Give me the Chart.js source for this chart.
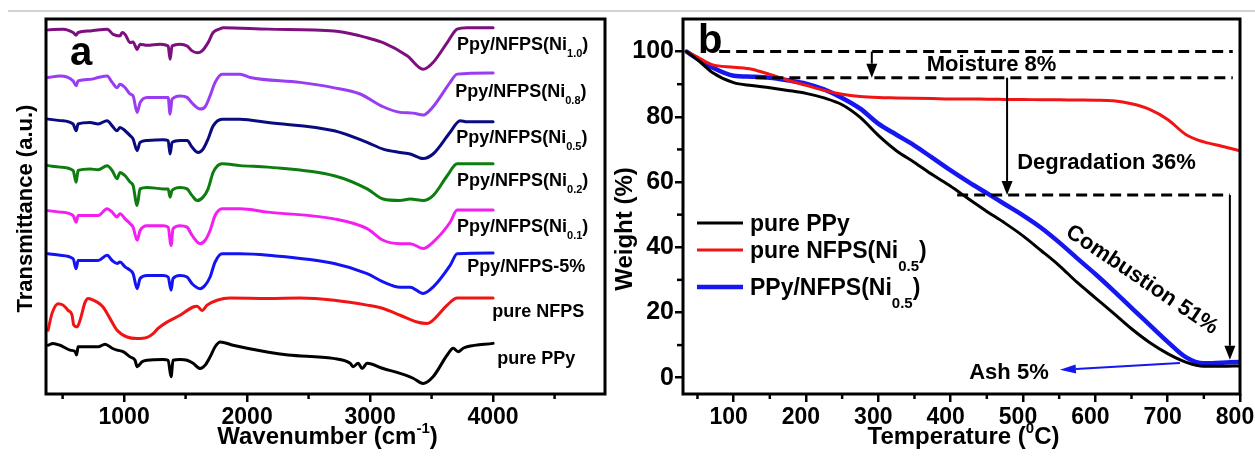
<!DOCTYPE html>
<html>
<head>
<meta charset="utf-8">
<script src="https://cdn.jsdelivr.net/npm/chart.js@4.4.1/dist/chart.umd.min.js"></script>
<style>
  html, body { margin: 0; padding: 0; background: #fff; }
  body { width: 1255px; height: 456px; position: relative; overflow: hidden; }
  #rule { position: absolute; left: 8px; top: 10px; width: 1247px; height: 2px; background: #d2d2d2; }
  #wrapA { position: absolute; left: 0; top: 0; width: 615px; height: 456px; }
  #wrapB { position: absolute; left: 600px; top: 0; width: 655px; height: 456px; }
  canvas { display: block; }
</style>
</head>
<body>
<div id="rule"></div>
<div id="wrapA"><canvas id="ftir" width="615" height="456"></canvas></div>
<div id="wrapB"><canvas id="tga" width="655" height="456"></canvas></div>
<script>
// ---------- (a) FTIR spectra: [wavenumber cm-1, offset transmittance a.u.] ----------
const ftirNi10 = [[382,97.1],[504,97.3],[585,96.4],[610,95.7],[626,96.4],[724,96.8],[862,97.3],[911,95.9],[967,95.5],[984,96.4],[1008,95.9],[1049,93.7],[1073,93.9],[1106,91.9],[1130,93.3],[1187,93.0],[1293,93.3],[1358,92.8],[1374,89.3],[1390,92.8],[1455,93.3],[1512,92.8],[1553,91.5],[1594,91.0],[1634,91.5],[1683,93.7],[1724,96.4],[1781,97.4],[1805,97.7],[2171,97.3],[2708,96.8],[2919,95.5],[2976,95.0],[3106,93.7],[3301,90.2],[3431,86.6],[3512,88.4],[3627,93.7],[3708,97.3],[3789,97.7],[4000,97.7]];
const ftirNi08 = [[382,84.4],[480,84.8],[585,83.5],[610,82.2],[626,83.5],[724,83.9],[789,84.4],[862,84.8],[903,83.1],[943,81.7],[967,82.6],[1008,81.7],[1049,80.0],[1073,79.5],[1106,75.1],[1130,77.7],[1187,79.1],[1317,79.1],[1358,79.1],[1374,74.6],[1390,78.6],[1455,79.5],[1512,79.1],[1561,77.3],[1618,76.0],[1659,76.6],[1699,79.5],[1740,83.1],[1797,85.3],[1943,85.3],[2025,84.4],[2431,83.1],[2700,81.7],[2919,80.0],[3106,76.6],[3244,75.1],[3350,74.9],[3431,74.4],[3512,76.6],[3651,83.1],[3708,85.3],[4000,85.6]];
const ftirNi05 = [[382,73.3],[480,72.9],[585,72.0],[610,70.2],[626,72.0],[724,72.4],[789,72.0],[862,72.9],[903,71.5],[943,70.2],[967,71.1],[1008,70.2],[1049,68.9],[1073,68.0],[1106,64.9],[1130,67.1],[1187,67.6],[1317,67.8],[1358,67.6],[1374,64.0],[1390,67.1],[1455,67.6],[1512,67.6],[1553,65.8],[1602,64.4],[1642,65.3],[1683,68.0],[1724,71.5],[1797,73.3],[1943,73.3],[2171,72.4],[2708,70.2],[2976,67.1],[3106,65.3],[3244,64.4],[3326,64.0],[3431,62.8],[3512,64.0],[3651,69.8],[3732,72.9],[3789,72.6],[4000,72.6]];
const ftirNi02 = [[382,60.9],[480,60.5],[585,59.6],[610,56.5],[626,59.6],[724,60.0],[789,59.8],[862,60.9],[903,59.6],[943,57.4],[967,59.1],[1008,58.2],[1049,56.5],[1073,55.6],[1106,50.3],[1130,54.7],[1187,55.1],[1317,54.7],[1358,54.7],[1374,52.5],[1390,54.3],[1455,55.1],[1512,54.7],[1553,52.9],[1594,51.6],[1642,52.5],[1683,54.7],[1724,59.1],[1797,61.4],[1943,60.9],[2171,60.5],[2708,58.2],[2976,54.7],[3106,52.0],[3244,51.6],[3326,52.0],[3431,51.6],[3512,52.9],[3627,58.2],[3708,61.4],[4000,61.4]];
const ftirNi01 = [[382,48.9],[480,48.5],[585,47.6],[610,45.8],[626,47.6],[724,47.6],[789,47.6],[862,49.4],[903,48.5],[943,47.2],[967,48.1],[1008,46.7],[1049,45.4],[1073,44.5],[1106,41.0],[1130,43.6],[1187,44.9],[1317,44.9],[1358,44.5],[1382,39.6],[1398,44.1],[1455,44.9],[1512,44.5],[1553,42.3],[1618,40.1],[1659,41.0],[1699,43.6],[1740,47.6],[1797,49.4],[1943,49.4],[2171,48.5],[2708,46.7],[2976,44.1],[3106,41.0],[3244,40.1],[3326,40.1],[3431,38.8],[3512,40.5],[3651,45.8],[3708,49.1],[4000,49.1]];
const ftir5pct = [[382,37.4],[480,37.0],[585,36.1],[610,33.4],[626,35.6],[724,35.6],[789,35.6],[862,37.0],[903,35.6],[943,34.8],[967,35.2],[1008,33.9],[1049,33.0],[1073,32.1],[1106,28.1],[1130,30.8],[1187,31.6],[1317,31.6],[1358,31.2],[1382,27.7],[1398,30.8],[1455,31.6],[1512,31.2],[1553,29.4],[1618,28.1],[1659,29.0],[1699,31.2],[1740,35.2],[1797,37.4],[1943,37.4],[2171,37.0],[2708,34.8],[2976,32.1],[3106,29.9],[3244,28.5],[3326,28.5],[3431,26.8],[3512,28.5],[3651,34.3],[3708,37.4],[4000,37.6]];
const ftirNFPS = [[382,17.0],[414,21.5],[463,24.1],[504,23.7],[545,22.3],[577,21.0],[590,18.4],[618,17.9],[642,19.7],[683,24.5],[707,25.5],[781,24.5],[829,23.2],[886,20.1],[943,17.0],[1024,15.2],[1106,14.8],[1187,15.1],[1236,16.1],[1276,17.5],[1350,19.2],[1455,21.0],[1561,23.2],[1594,23.4],[1634,22.3],[1675,23.7],[1756,25.0],[1862,25.6],[2171,25.5],[2431,25.6],[2708,25.0],[2976,23.7],[3106,22.8],[3244,21.0],[3382,19.2],[3464,18.8],[3512,19.7],[3627,23.7],[3708,25.6],[4000,25.6]];
const ftirPPy = [[382,13.0],[422,13.5],[480,13.0],[561,11.7],[602,11.3],[614,10.4],[626,12.6],[724,12.6],[789,12.6],[845,13.3],[903,12.2],[943,11.7],[992,11.3],[1049,9.9],[1089,9.0],[1106,7.3],[1146,8.6],[1187,9.0],[1317,9.2],[1358,9.0],[1382,4.6],[1398,9.0],[1455,9.2],[1512,9.0],[1561,8.2],[1618,6.8],[1659,7.7],[1699,9.9],[1740,12.6],[1781,13.9],[1886,13.0],[2163,11.2],[2334,10.4],[2700,9.5],[2838,8.2],[2862,7.3],[2903,8.2],[2935,6.8],[2976,8.2],[3106,6.8],[3244,5.5],[3350,4.2],[3431,2.8],[3512,4.6],[3627,10.4],[3676,12.2],[3716,11.3],[3757,12.2],[3789,12.6],[4000,13.5]];

const ftirNames = ['Ppy/NFPS(Ni_{1.0})', 'Ppy/NFPS(Ni_{0.8})', 'Ppy/NFPS(Ni_{0.5})', 'Ppy/NFPS(Ni_{0.2})',
                   'Ppy/NFPS(Ni_{0.1})', 'Ppy/NFPS-5%', 'pure NFPS', 'pure PPy'];
const ftirTicks = [1000, 2000, 3000, 4000];
const ftirMinorTicks = [500, 1500, 2500, 3500, 4500];

// ---------- (b) TGA curves: weight (%) against temperature (°C) ----------
const temperatures = [35,50,70,100,125,150,175,200,225,250,275,300,325,350,375,400,425,450,475,500,525,550,575,600,625,650,675,700,725,750,775,800];
const weightPPy = [100,97.5,93.7,90.5,89.6,88.9,88.1,87.2,85.8,83.7,79.8,74.3,69.6,66.0,62.2,58.7,54.8,51.0,47.4,43.5,39.0,34.4,29.2,24.5,19.8,15.0,10.8,7.4,4.8,3.5,3.5,3.6];
const weightNFPS = [100,98.3,96.0,95.2,94.6,93.0,91.2,89.7,88.1,86.9,86.2,85.9,85.8,85.7,85.6,85.5,85.5,85.4,85.35,85.3,85.25,85.2,85.15,85.1,84.9,84.0,82.3,79.2,74.6,72.3,71.0,69.6];
const weightComposite = [100,97.8,95.2,92.6,92.3,92.0,91.2,90.2,88.4,85.8,82.5,77.9,74.5,71.2,67.4,63.6,60.0,56.6,53.2,49.8,46.0,41.5,36.6,31.8,26.7,21.4,16.2,11.0,6.3,4.4,4.6,4.8];

const tgaNames = ['pure PPy', 'pure NFPS(Ni_{0.5})', 'PPy/NFPS(Ni_{0.5})'];
const tgaTicksX = [100, 200, 300, 400, 500, 600, 700, 800];
const tgaMinorX = [50, 150, 250, 350, 450, 550, 650, 750];
const tgaTicksY = [0, 20, 40, 60, 80, 100];
const tgaMinorY = [10, 30, 50, 70, 90];

// stage marks: levels [from °C, to °C, weight %], steps [°C, from %, to %]
const stageLevels = [[80, 790, 100], [130, 790, 92], [409, 786, 56]];
const stageSteps = [[291, 100, 92], [478, 92, 56], [786, 56, 5.5]];
const ashPointer = [[717, 4.5], [551, 2.4]];
const stageNotes = ['Moisture 8%', 'Degradation 36%', 'Combustion 51%', 'Ash 5%'];

// ---------- styles and placement ----------
const FONT = '"Liberation Sans", Arial, Helvetica, sans-serif';
const ftirColors = ['#7e0f7e', '#9a3cf2', '#0b0b80', '#0e7d10', '#f21ff0', '#1414f2', '#f01414', '#000000'];
const tgaColors = ['#000000', '#f01414', '#1616f0'];
const tgaWidths = [3, 3, 4.5];
// label anchor (left edge in cm-1, text middle in a.u.)
const ftirLabelAt = [[3707,93.4],[3692,80.9],[3700,68.6],[3707,57.3],[3707,44.9],[3789,34.3],[3993,22.3],[4033,9.6]];
// note anchors in data units: [°C, weight %, align, angle°]
const noteAt = [[367, 95.9, 'left', 0], [492, 65.8, 'left', 0], [664.5, 30.0, 'center', 34], [480.6, 1.4, 'center', 0]];

const LABEL_ST = { size: 18, small: 11, sub: 7, sup: 8 };
const LEGEND_ST = { size: 23, small: 15, sub: 13, sup: 9 };
const TITLE_ST = { size: 24, small: 15, sub: 8, sup: 11 };
const YTITLE_A = { size: 22, small: 14, sub: 8, sup: 10 };

function richParts(str) {
  const out = []; const re = /([_^])\{([^}]*)\}/g; let last = 0, m;
  while ((m = re.exec(str))) {
    if (m.index > last) out.push({ t: str.slice(last, m.index), k: 0 });
    out.push({ t: m[2], k: m[1] === '_' ? -1 : 1 });
    last = re.lastIndex;
  }
  if (last < str.length) out.push({ t: str.slice(last), k: 0 });
  return out;
}
function drawRich(ctx, str, x, y, st, align) {
  const parts = richParts(str);
  const fontOf = k => `bold ${k === 0 ? st.size : st.small}px ${FONT}`;
  let w = 0;
  parts.forEach(p => { ctx.font = fontOf(p.k); p.w = ctx.measureText(p.t).width; w += p.w; });
  let cx = align === 'center' ? x - w / 2 : align === 'right' ? x - w : x;
  ctx.textAlign = 'left'; ctx.textBaseline = 'alphabetic';
  parts.forEach(p => {
    ctx.font = fontOf(p.k);
    const dy = p.k < 0 ? st.sub : p.k > 0 ? -st.sup : 0;
    ctx.fillText(p.t, cx, y + dy);
    cx += p.w;
  });
}
function drawFrame(ctx, a) {
  ctx.strokeStyle = '#000'; ctx.lineWidth = 3; ctx.setLineDash([]);
  ctx.strokeRect(a.left, a.top, a.right - a.left, a.bottom - a.top);
}
function minorX(ctx, sc, a, vals, len) {
  ctx.strokeStyle = '#000'; ctx.lineWidth = 2.5;
  vals.forEach(v => { const p = sc.getPixelForValue(v); ctx.beginPath(); ctx.moveTo(p, a.bottom); ctx.lineTo(p, a.bottom + len); ctx.stroke(); });
}
function minorY(ctx, sc, a, vals, len) {
  ctx.strokeStyle = '#000'; ctx.lineWidth = 2.5;
  vals.forEach(v => { const p = sc.getPixelForValue(v); ctx.beginPath(); ctx.moveTo(a.left, p); ctx.lineTo(a.left - len, p); ctx.stroke(); });
}
function arrow(ctx, x0, y0, x1, y1, color, lw, headLen, headHalf) {
  const ang = Math.atan2(y1 - y0, x1 - x0);
  const bx = x1 - headLen * Math.cos(ang), by = y1 - headLen * Math.sin(ang);
  ctx.setLineDash([]); ctx.strokeStyle = color; ctx.fillStyle = color; ctx.lineWidth = lw;
  ctx.beginPath(); ctx.moveTo(x0, y0); ctx.lineTo(bx, by); ctx.stroke();
  ctx.beginPath(); ctx.moveTo(x1, y1);
  ctx.lineTo(bx + headHalf * Math.sin(ang), by - headHalf * Math.cos(ang));
  ctx.lineTo(bx - headHalf * Math.sin(ang), by + headHalf * Math.cos(ang));
  ctx.closePath(); ctx.fill();
}

const tickFont = { family: FONT, size: 23, weight: 'bold' };
const tickFontY = { family: FONT, size: 25, weight: 'bold' };
const gridTicks = { drawOnChartArea: false, drawTicks: true, tickLength: 8, color: '#000', lineWidth: 2.5 };

// ---------- chart (a) ----------
const ftirSets = [ftirNi10, ftirNi08, ftirNi05, ftirNi02, ftirNi01, ftir5pct, ftirNFPS, ftirPPy];

const ftirDecor = {
  id: 'ftirDecor',
  afterDraw(chart) {
    const { ctx, chartArea: a, scales: { x, y } } = chart;
    ctx.save();
    drawFrame(ctx, a);
    minorX(ctx, x, a, ftirMinorTicks, 5);
    ctx.fillStyle = '#000';
    ftirNames.forEach((name, i) => {
      const [wn, v] = ftirLabelAt[i];
      drawRich(ctx, name, x.getPixelForValue(wn), y.getPixelForValue(v) + 0.358 * LABEL_ST.size, LABEL_ST, 'left');
    });
    ctx.font = `bold 40px ${FONT}`; ctx.textAlign = 'left'; ctx.textBaseline = 'alphabetic';
    ctx.fillText('a', a.left + 24, 65);
    drawRich(ctx, 'Wavenumber (cm^{-1})', (a.left + a.right) / 2 + 2, 444, TITLE_ST, 'center');
    ctx.translate(32, (a.top + a.bottom) / 2 + 2);
    ctx.rotate(-Math.PI / 2);
    drawRich(ctx, 'Transmittance (a.u.)', 0, 0, YTITLE_A, 'center');
    ctx.restore();
  }
};

new Chart(document.getElementById('ftir'), {
  type: 'line',
  data: {
    datasets: ftirSets.map((d, i) => ({
      label: ftirNames[i], data: d, borderColor: ftirColors[i], borderWidth: 3,
      pointRadius: 0, fill: false, cubicInterpolationMode: 'monotone',
      borderJoinStyle: 'round', borderCapStyle: 'round'
    }))
  },
  options: {
    responsive: false, animation: false, devicePixelRatio: 1,
    layout: { padding: { left: 46, right: 10, top: 19, bottom: 0 } },
    plugins: { legend: { display: false }, tooltip: { enabled: false } },
    scales: {
      x: {
        type: 'linear', min: 365, max: 4910,
        afterBuildTicks: s => { s.ticks = ftirTicks.map(v => ({ value: v })); },
        afterFit: s => { s.height = 62; s.paddingLeft = 0; s.paddingRight = 0; },
        grid: gridTicks, border: { display: false },
        ticks: { color: '#000', font: tickFont, padding: 2, maxRotation: 0, autoSkip: false, callback: v => String(v) }
      },
      y: { display: false, min: 0, max: 100 }
    }
  },
  plugins: [ftirDecor]
});

// ---------- chart (b) ----------
const tgaSeries = [weightPPy, weightNFPS, weightComposite];

const tgaDecor = {
  id: 'tgaDecor',
  afterDraw(chart) {
    const { ctx, chartArea: a, scales: { x, y } } = chart;
    const X = v => x.getPixelForValue(v), Y = v => y.getPixelForValue(v);
    ctx.save();
    // stage levels
    ctx.strokeStyle = '#000'; ctx.lineWidth = 3; ctx.setLineDash([11, 6]);
    stageLevels.forEach(([t0, t1, w]) => {
      ctx.beginPath(); ctx.moveTo(X(t0), Y(w)); ctx.lineTo(X(t1), Y(w)); ctx.stroke();
    });
    stageSteps.forEach(([t, w0, w1]) => arrow(ctx, X(t), Y(w0), X(t), Y(w1), '#000', 2, 14, 5.5));
    arrow(ctx, X(ashPointer[0][0]), Y(ashPointer[0][1]), X(ashPointer[1][0]), Y(ashPointer[1][1]), '#1616f0', 2, 16, 4.5);
    // stage notes
    ctx.fillStyle = '#000'; ctx.font = `bold 22px ${FONT}`; ctx.textBaseline = 'middle';
    stageNotes.forEach((txt, i) => {
      const [t, w, align, ang] = noteAt[i];
      ctx.save();
      ctx.translate(X(t), Y(w)); ctx.rotate(ang * Math.PI / 180);
      ctx.textAlign = align; ctx.fillText(txt, 0, 0);
      ctx.restore();
    });
    // legend
    const rows = [a.top + 204, a.top + 231, a.top + 268];
    tgaNames.forEach((name, i) => {
      ctx.strokeStyle = tgaColors[i]; ctx.lineWidth = tgaWidths[i]; ctx.setLineDash([]);
      ctx.beginPath(); ctx.moveTo(a.left + 14, rows[i]); ctx.lineTo(a.left + 60, rows[i]); ctx.stroke();
      ctx.fillStyle = '#000';
      drawRich(ctx, name, a.left + 67, rows[i] + 0.358 * LEGEND_ST.size, LEGEND_ST, 'left');
    });
    drawFrame(ctx, a);
    minorX(ctx, x, a, tgaMinorX, 5);
    minorY(ctx, y, a, tgaMinorY, 6);
    ctx.fillStyle = '#000'; ctx.font = `bold 40px ${FONT}`; ctx.textAlign = 'left'; ctx.textBaseline = 'alphabetic';
    ctx.fillText('b', a.left + 15, 53);
    drawRich(ctx, 'Temperature (^{0}C)', (a.left + a.right) / 2 + 2, 444, TITLE_ST, 'center');
    ctx.translate(32, 229);
    ctx.rotate(-Math.PI / 2);
    drawRich(ctx, 'Weight (%)', 0, 0, TITLE_ST, 'center');
    ctx.restore();
  }
};

new Chart(document.getElementById('tga'), {
  type: 'line',
  data: {
    datasets: tgaSeries.map((w, i) => ({
      label: tgaNames[i], data: temperatures.map((t, j) => [t, w[j]]),
      borderColor: tgaColors[i], borderWidth: tgaWidths[i], pointRadius: 0, fill: false,
      cubicInterpolationMode: 'monotone', borderJoinStyle: 'round', borderCapStyle: 'round'
    }))
  },
  options: {
    responsive: false, animation: false, devicePixelRatio: 1,
    layout: { padding: { left: 0, right: 15, top: 19, bottom: 0 } },
    plugins: { legend: { display: false }, tooltip: { enabled: false } },
    scales: {
      x: {
        type: 'linear', min: 30, max: 800,
        afterBuildTicks: s => { s.ticks = tgaTicksX.map(v => ({ value: v })); },
        afterFit: s => { s.height = 62; s.paddingLeft = 0; s.paddingRight = 0; },
        grid: gridTicks, border: { display: false },
        ticks: { color: '#000', font: tickFont, padding: 2, labelOffset: -5, maxRotation: 0, autoSkip: false, callback: v => String(v) }
      },
      y: {
        type: 'linear', min: -5, max: 110,
        afterBuildTicks: s => { s.ticks = tgaTicksY.map(v => ({ value: v })); },
        afterFit: s => { s.width = 83; s.paddingTop = 0; s.paddingBottom = 0; },
        grid: gridTicks, border: { display: false },
        ticks: { color: '#000', font: tickFontY, padding: 1, autoSkip: false, callback: v => String(v) }
      }
    }
  },
  plugins: [tgaDecor]
});
</script>
</body>
</html>
